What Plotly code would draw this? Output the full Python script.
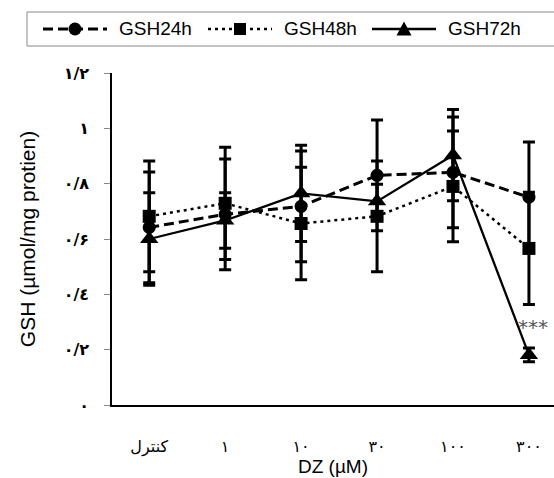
import plotly.graph_objects as go

categories = ["کنترل", "۱", "۱۰", "۳۰", "۱۰۰", "۳۰۰"]
gsh24 = [0.642, 0.689, 0.718, 0.830, 0.841, 0.751]
gsh24_err = [0.20, 0.20, 0.20, 0.20, 0.20, 0.20]
gsh48 = [0.682, 0.729, 0.656, 0.682, 0.790, 0.566]
gsh48_err = [0.20, 0.203, 0.203, 0.20, 0.20, 0.203]
gsh72 = [0.600, 0.667, 0.765, 0.736, 0.903, 0.181]
gsh72_err = [0.167, 0.10, 0.174, 0.062, 0.165, 0.025]
ytick_vals = [0, 0.2, 0.4, 0.6, 0.8, 1.0, 1.2]
ytick_text = ["۰", "۰/۲", "۰/٤", "۰/۶", "۰/۸", "۱", "۱/۲"]
series_names = ["GSH24h", "GSH48h", "GSH72h"]

W, H = 554, 478
ML, MR, MT, MB = 112, 0, 73, 73
PW, PH = W - ML - MR, H - MT - MB


def px(xp):
    return (xp - ML) / PW


def py(yp):
    return (H - MB - yp) / PH


xs = list(range(len(categories)))

styles = [
    dict(dash="10px,5px", width=3, symbol="circle", size=13),
    dict(dash="3px,4px", width=2.5, symbol="square", size=13),
    dict(dash="solid", width=2.3, symbol="triangle-up", size=16),
]
data = [(gsh24, gsh24_err), (gsh48, gsh48_err), (gsh72, gsh72_err)]

fig = go.Figure()
for name, (y, e), st in zip(series_names, data, styles):
    fig.add_trace(go.Scatter(
        x=xs, y=y, name=name, mode="lines+markers", showlegend=False,
        line=dict(color="black", width=st["width"], dash=st["dash"]),
        marker=dict(symbol=st["symbol"], size=st["size"], color="black"),
        error_y=dict(type="data", array=e, visible=True, color="black", thickness=3, width=6),
    ))

fig.add_annotation(x=5.05, y=0.283, text="***", showarrow=False, yanchor="middle",
                   font=dict(size=20, color="#555555", family="DejaVu Sans"))

# legend drawn as layout decoration
shapes = [dict(type="rect", xref="paper", yref="paper",
               x0=px(27), x1=px(570), y0=py(46), y1=py(12),
               line=dict(color="#888888", width=1), fillcolor="white", layer="above")]
row_y = 29
item_x = [43, 208, 372]
for name, st, x0 in zip(series_names, styles, item_x):
    shapes.append(dict(type="line", xref="paper", yref="paper",
                       x0=px(x0), x1=px(x0 + 64), y0=py(row_y), y1=py(row_y),
                       line=dict(color="black", width=st["width"], dash=st["dash"]),
                       layer="above"))
    cx = x0 + 32
    if st["symbol"] == "circle":
        r = 6.5
        shapes.append(dict(type="circle", xref="paper", yref="paper",
                           x0=px(cx - r), x1=px(cx + r), y0=py(row_y + r), y1=py(row_y - r),
                           fillcolor="black", line=dict(width=0), layer="above"))
    elif st["symbol"] == "square":
        r = 6
        shapes.append(dict(type="rect", xref="paper", yref="paper",
                           x0=px(cx - r), x1=px(cx + r), y0=py(row_y + r), y1=py(row_y - r),
                           fillcolor="black", line=dict(width=0), layer="above"))
    else:
        r = 7.5
        path = "M {:.5f},{:.5f} L {:.5f},{:.5f} L {:.5f},{:.5f} Z".format(
            px(cx - r), py(row_y + 6.5), px(cx + r), py(row_y + 6.5), px(cx), py(row_y - 7.5))
        shapes.append(dict(type="path", xref="paper", yref="paper", path=path,
                           fillcolor="black", line=dict(width=0), layer="above"))
    fig.add_annotation(xref="paper", yref="paper", x=px(x0 + 74), y=py(row_y),
                       xanchor="left", yanchor="middle", showarrow=False,
                       text=name, font=dict(size=19, color="black"))

fig.update_layout(
    width=W, height=H,
    margin=dict(l=ML, r=MR, t=MT, b=MB, autoexpand=False),
    plot_bgcolor="white", paper_bgcolor="white",
    font=dict(family="Liberation Sans, Arial", color="black"),
    showlegend=False,
    shapes=shapes,
    xaxis=dict(range=[-0.49, 5.33], tickmode="array", tickvals=xs, ticktext=categories,
               showline=True, linecolor="black", linewidth=1.5, ticks="",
               showgrid=False, zeroline=False, ticklabelstandoff=26, automargin=False,
               tickfont=dict(size=16, family="DejaVu Sans"),
               title=dict(text="DZ (µM)", font=dict(size=19), standoff=2)),
    yaxis=dict(range=[0, 1.2], tickmode="array", tickvals=ytick_vals, ticktext=ytick_text,
               showline=True, linecolor="black", linewidth=1.5, ticks="outside",
               ticklen=6, tickcolor="#888888", showgrid=False, zeroline=False,
               automargin=False,
               tickfont=dict(size=16, family="DejaVu Sans", weight="bold"),
               ticklabelstandoff=12,
               title=dict(text="GSH (µmol/mg protien)", font=dict(size=21), standoff=22)),
)

fig.write_html("out.html", config={"displayModeBar": False},
               post_script="document.body.style.margin='0';")
